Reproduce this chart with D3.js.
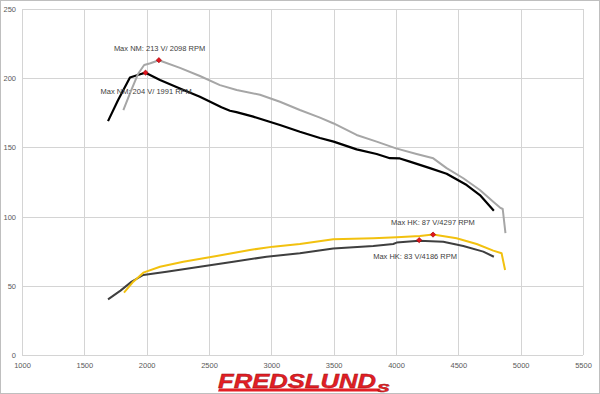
<!DOCTYPE html>
<html>
<head>
<meta charset="utf-8">
<script src="https://cdn.jsdelivr.net/npm/d3@7"></script>
<style>
  html, body { margin: 0; padding: 0; background: #fff; }
  svg { display: block; }
</style>
</head>
<body>
<div id="chart"></div>
<script>
// run 1: black torque + dark grey power
const rpmNm1 = [1690, 1770, 1866, 1935, 1991, 2107, 2267, 2427, 2600, 2668, 2720, 2855, 3069, 3229, 3390, 3500, 3684, 3845, 3951, 4031, 4111, 4272, 4406, 4567, 4673, 4785];
const nm1    = [169, 184, 200.5, 202.5, 204, 198.7, 192.6, 186.6, 179, 176.5, 175.5, 172.2, 166.2, 161.3, 156.8, 154.2, 148.6, 145.2, 142.2, 142, 139.7, 135, 131, 122.8, 115.6, 104.3];

const rpmHk1 = [1690, 1790, 1880, 1973, 2160, 2427, 2695, 2962, 3229, 3497, 3818, 3978, 4005, 4186, 4379, 4540, 4700, 4785];
const hk1    = [40.2, 46.5, 53, 57.8, 60.2, 63.8, 67.4, 71, 73.5, 77, 78.8, 80.2, 81.2, 82.6, 81.9, 78.8, 74.7, 71];

// run 2: light grey torque + yellow power
const rpmNm2 = [1813, 1870, 1930, 1980, 2030, 2098, 2267, 2427, 2588, 2722, 2909, 3069, 3229, 3390, 3500, 3684, 3845, 4000, 4165, 4299, 4406, 4540, 4673, 4780, 4834, 4856, 4878];
const nm2    = [177, 190, 203, 209.5, 210.8, 213, 207.5, 201.6, 195, 191.5, 188, 183, 177, 171.5, 167.3, 159, 154.2, 149.3, 145.2, 142.1, 135, 127.7, 119.2, 110.8, 106.5, 105.5, 88];

const rpmHk2 = [1818, 1893, 1973, 2107, 2294, 2561, 2828, 3015, 3229, 3497, 3818, 4005, 4192, 4297, 4486, 4647, 4780, 4847, 4875];
const hk2    = [45, 53, 59.5, 63.8, 67.4, 71.5, 75.9, 78.3, 80.2, 83.6, 84.3, 85, 86, 87, 84.3, 80.2, 75.4, 73.5, 61.4];

// max markers
const maxRpm    = [2098, 1991, 4297, 4186];
const maxVal    = [213, 204, 87, 83];
const maxLabels = ['Max NM: 213 V/ 2098 RPM', 'Max NM: 204 V/ 1991 RPM', 'Max HK: 87 V/4297 RPM', 'Max HK: 83 V/4186 RPM'];

const xTicks = [1000, 1500, 2000, 2500, 3000, 3500, 4000, 4500, 5000, 5500];
const yTicks = [0, 50, 100, 150, 200, 250];

const width = 600, height = 394;
const margin = { top: 9, right: 17, bottom: 39, left: 22 };

const svg = d3.select('#chart')
    .append('svg')
    .attr('width', width)
    .attr('height', height);

svg.append('rect')
    .attr('x', 0.5).attr('y', 0.5)
    .attr('width', width - 1).attr('height', height - 1)
    .attr('fill', '#fff')
    .attr('stroke', '#bfbfbf');

const x = d3.scaleLinear().domain([1000, 5500]).range([margin.left, width - margin.right]);
const y = d3.scaleLinear().domain([0, 250]).range([height - margin.bottom, margin.top]);

// grid
svg.append('g').selectAll('line')
    .data(xTicks).enter().append('line')
    .attr('x1', d => Math.round(x(d)) + 0.5).attr('x2', d => Math.round(x(d)) + 0.5)
    .attr('y1', y(250)).attr('y2', y(0))
    .attr('stroke', '#d4d4d4').attr('stroke-width', 1);

svg.append('g').selectAll('line')
    .data(yTicks).enter().append('line')
    .attr('x1', x(1000)).attr('x2', x(5500))
    .attr('y1', d => Math.round(y(d)) + 0.5).attr('y2', d => Math.round(y(d)) + 0.5)
    .attr('stroke', '#d4d4d4').attr('stroke-width', 1);

// axes (labels only)
const xAxis = svg.append('g')
    .attr('transform', `translate(0,${y(0)})`)
    .call(d3.axisBottom(x).tickValues(xTicks).tickSize(0).tickPadding(8).tickFormat(d3.format('d')));
xAxis.select('.domain').remove();
xAxis.selectAll('text')
    .style('fill', '#595959')
    .style('font-family', 'Liberation Sans, Arial, sans-serif')
    .style('font-size', '7.5px');

const yAxis = svg.append('g')
    .attr('transform', `translate(${x(1000)},0)`)
    .call(d3.axisLeft(y).tickValues(yTicks).tickSize(0).tickPadding(6));
yAxis.select('.domain').remove();
yAxis.selectAll('text')
    .style('fill', '#595959')
    .style('font-family', 'Liberation Sans, Arial, sans-serif')
    .style('font-size', '7.5px');

const line = d3.line()
    .x(d => x(d[0]))
    .y(d => y(d[1]));

const series = [
    { rpm: rpmNm1, vals: nm1, color: '#000000', w: 2.2 },
    { rpm: rpmHk1, vals: hk1, color: '#3f3f3f', w: 2 },
    { rpm: rpmNm2, vals: nm2, color: '#a6a6a6', w: 2 },
    { rpm: rpmHk2, vals: hk2, color: '#f2c10f', w: 2 }
];

series.forEach(s => {
    svg.append('path')
        .datum(s.rpm.map((r, i) => [r, s.vals[i]]))
        .attr('fill', 'none')
        .attr('stroke', s.color)
        .attr('stroke-width', s.w)
        .attr('stroke-linejoin', 'round')
        .attr('d', line);
});

// label offsets from marker (text start, baseline)
const labelOffsets = [[-45, -9], [-45, 21], [-42, -10], [-46, 19]];

svg.selectAll('.maxdot')
    .data(maxRpm).enter().append('path')
    .attr('class', 'maxdot')
    .attr('transform', (d, i) => `translate(${x(d)},${y(maxVal[i])}) rotate(45)`)
    .attr('d', d3.symbol(d3.symbolSquare, 14))
    .attr('fill', '#e0141e')
    .attr('stroke', '#a00000')
    .attr('stroke-width', 0.6);

svg.selectAll('.maxlabel')
    .data(maxLabels).enter().append('text')
    .attr('class', 'maxlabel')
    .attr('x', (d, i) => x(maxRpm[i]) + labelOffsets[i][0])
    .attr('y', (d, i) => y(maxVal[i]) + labelOffsets[i][1])
    .style('fill', '#404040')
    .style('font-family', 'Liberation Sans, Arial, sans-serif')
    .style('font-size', '7.5px')
    .text(d => d);

// logo
const logo = svg.append('g');
logo.append('path')
    .attr('d', 'M219,388.5 L380,388.5 L379,391.5 L218,391.5 Z')
    .attr('fill', '#e31e24');
logo.append('text')
    .attr('x', 218)
    .attr('y', 387.5)
    .attr('textLength', 158)
    .attr('lengthAdjust', 'spacingAndGlyphs')
    .style('font-family', 'Liberation Sans, Arial, sans-serif')
    .style('font-weight', 'bold')
    .style('font-style', 'italic')
    .style('font-size', '20px')
    .style('fill', '#e31e24')
    .style('stroke', '#9a0d12')
    .style('stroke-width', 0.4)
    .text('FREDSLUND');
logo.append('text')
    .attr('x', 377)
    .attr('y', 391.5)
    .attr('textLength', 13)
    .attr('lengthAdjust', 'spacingAndGlyphs')
    .style('font-family', 'Liberation Sans, Arial, sans-serif')
    .style('font-weight', 'bold')
    .style('font-style', 'italic')
    .style('font-size', '15px')
    .style('fill', '#e31e24')
    .style('stroke', '#9a0d12')
    .style('stroke-width', 0.4)
    .text('s');
</script>
</body>
</html>
